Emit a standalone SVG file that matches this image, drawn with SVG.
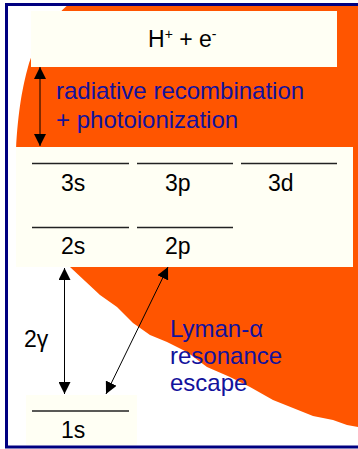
<svg xmlns="http://www.w3.org/2000/svg" width="358" height="449" viewBox="0 0 358 449">
<defs>
<style>
.box{fill:#FFFFF4}
.lvl{stroke:#222;stroke-width:1.3}
.t{font-family:"Liberation Sans",Arial,sans-serif;font-size:23px;fill:#000}
.b{font-family:"Liberation Sans",Arial,sans-serif;font-size:24px;fill:#12129C}
.c{stroke:#000;stroke-width:1;fill:none;marker-start:url(#ah);marker-end:url(#ah)}
</style>
<marker id="ah" viewBox="0 0 12 12" refX="12" refY="6" markerWidth="12" markerHeight="12" markerUnits="userSpaceOnUse" orient="auto-start-reverse">
<path d="M0,0 L12,6 L0,12 Z" fill="#000"/>
</marker>
</defs>
<rect x="0" y="0" width="358" height="449" fill="#fff"/>
<path id="orange" fill="#FF5500" d="M69,4 C52,18 34,45 28,67 C23,85 18,110 16,150 L16,230 C30,250 50,262 70,267 L100,295 L117,307 L133,323 L150,335 L167,342 L187,352 L207,367 L230,377 L250,387 L273,400 L293,408 L313,416 L333,420 L347,425 L358,427 L360,427 L360,4 Z"/>
<g id="continuum">
<rect class="box" x="31" y="11" width="306" height="56"/>
<text class="t" x="148" y="47">H<tspan font-size="14" dy="-8">+</tspan><tspan dy="8"> + e</tspan><tspan font-size="14" dy="-8">-</tspan></text>
</g>
<g id="n3">
<rect class="box" x="16" y="147" width="337" height="120"/>
<line class="lvl" x1="32" y1="163.5" x2="129" y2="163.5"/>
<line class="lvl" x1="137" y1="163.5" x2="233" y2="163.5"/>
<line class="lvl" x1="241" y1="163.5" x2="337" y2="163.5"/>
<text class="t" x="61" y="191">3s</text>
<text class="t" x="165" y="191">3p</text>
<text class="t" x="268" y="191">3d</text>
</g>
<g id="n2">
<line class="lvl" x1="32" y1="227.5" x2="129" y2="227.5"/>
<line class="lvl" x1="137" y1="227.5" x2="233" y2="227.5"/>
<text class="t" x="61" y="254">2s</text>
<text class="t" x="165" y="254">2p</text>
</g>
<g id="n1">
<rect class="box" x="26" y="395" width="111" height="50"/>
<line class="lvl" x1="32" y1="411" x2="129" y2="411"/>
<text class="t" x="61" y="438">1s</text>
</g>
<g id="labels">
<text class="b" x="56" y="99">radiative recombination</text>
<text class="b" x="56" y="128">+ photoionization</text>
<text class="b" x="170" y="337">Lyman-α</text>
<text class="b" x="170" y="364">resonance</text>
<text class="b" x="170" y="391">escape</text>
<text class="t" x="24" y="347">2γ</text>
</g>
<g id="connectors">
<line class="c" x1="40" y1="67" x2="40" y2="146"/>
<line class="c" x1="64.5" y1="268" x2="64.5" y2="394"/>
<line class="c" x1="168" y1="267" x2="106" y2="394"/>
</g>
<rect id="frame" x="6.5" y="4.5" width="360" height="442.5" fill="none" stroke="#000080" stroke-width="3"/>
</svg>
